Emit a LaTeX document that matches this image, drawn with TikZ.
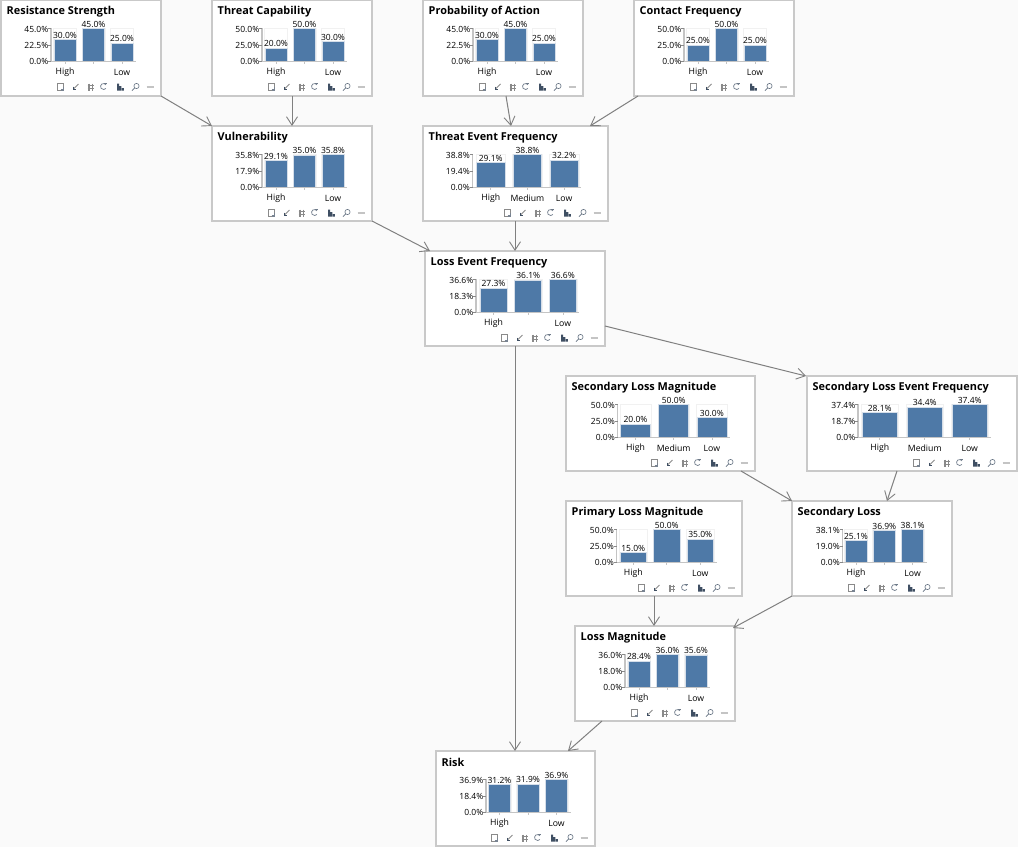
\documentclass[tikz,border=0pt]{standalone}
\usepackage{fontspec}
\setmainfont{Open Sans}
\usetikzlibrary{arrows.meta}
\definecolor{bgc}{HTML}{FAFAFA}
\definecolor{edgec}{HTML}{C9C9C9}
\definecolor{barc}{HTML}{4E79A7}
\definecolor{axisc}{HTML}{C4C4C4}
\definecolor{trackc}{HTML}{F1F1F1}
\definecolor{haloc}{HTML}{D5DEE9}
\definecolor{linkc}{HTML}{808080}
\definecolor{icondark}{HTML}{3F4F63}
\definecolor{icongrey}{HTML}{8A8A8A}
\tikzset{
  panelbox/.style={draw=edgec,line width=1.7pt,fill=white,inner sep=0pt,outer sep=0pt,anchor=north west},
  paneltitle/.style={font=\fontsize{10.9}{12}\selectfont\bfseries,anchor=west,inner sep=0pt},
  ticklabel/.style={font=\fontsize{8.5}{10}\selectfont,anchor=east,inner sep=0pt},
  vallabel/.style={font=\fontsize{8.5}{10}\selectfont,anchor=center,inner sep=0pt},
  catlabel/.style={font=\fontsize{8.7}{10}\selectfont,anchor=center,inner sep=0pt},
  link/.style={draw=linkc,line width=1pt,-{Straight Barb[length=8.5pt,width=11pt,line width=0.9pt]}},
}
% \panel{id}{x0}{y0}{x1}{y1}{title}
\newcommand{\panel}[6]{%
  \pgfmathsetmacro\pw{#4-#2}\pgfmathsetmacro\ph{#5-#3}%
  \node[panelbox,minimum width=\pw pt,minimum height=\ph pt] (#1) at (#2,#3) {};
  \node[paneltitle] (#1-title) at (#2+5.5,#3+11.5) {#6};
  \def\pid{#1}\def\pxa{#2}\def\pya{#3}\def\pxb{#4}%
  \panelicons{#4}{#3+87}%
}
% \geom{axis x}{first bar x}{bar width}{pitch}
\newcommand{\geom}[4]{\def\gax{#1}\def\gbx{#2}\def\gbw{#3}\def\gp{#4}}
\newcommand{\onebar}[5]{% index, value, max, label, category
  \pgfmathsetmacro\bl{\gbx+#1*\gp}\pgfmathsetmacro\br{\bl+\gbw}%
  \pgfmathsetmacro\bt{\pya+61.5-33*#2/#3}\pgfmathsetmacro\bc{\bl+\gbw/2}%
  \draw[trackc,line width=0.8pt] (\bl-0.5,\pya+61.5) -- (\bl-0.5,\pya+28) -- (\br+0.5,\pya+28) -- (\br+0.5,\pya+61.5);
  \fill[barc,draw=haloc,line width=0.6pt] (\bl,\bt) rectangle (\br,\pya+61.5);
  \node[vallabel] (\pid-val#1) at (\bc,\bt-4.5) {#4};
  \draw[axisc,line width=0.7pt] (\bc,\pya+61.5) -- (\bc,\pya+64);
  \if\relax\detokenize{#5}\relax\else
  \node[catlabel] (\pid-cat#1) at (\bc,\pya+72.5) {#5};\fi
}
% \chart{max}{mid}{v1}{v2}{v3}{middle category}
\newcommand{\chart}[6]{%
  \pgfmathsetmacro\lastx{\gbx+2*\gp+\gbw+3}%
  \onebar{0}{#3}{#1}{#3\%}{High}
  \onebar{1}{#4}{#1}{#4\%}{#6}
  \onebar{2}{#5}{#1}{#5\%}{Low}
  \draw[axisc,line width=1.3pt] (\gax,\pya+28) -- (\gax,\pya+61.5) -- (\lastx,\pya+61.5);
  \draw[axisc!70!black,line width=0.7pt] (\gax-3,\pya+28.5) -- (\gax,\pya+28.5) (\gax-3,\pya+45) -- (\gax,\pya+45) (\gax-3,\pya+61.5) -- (\gax,\pya+61.5);
  \node[ticklabel] (\pid-tmax) at (\gax-2.5,\pya+29.5) {#1\%};
  \node[ticklabel] (\pid-tmid) at (\gax-2.5,\pya+45.5) {#2\%};
  \node[ticklabel] (\pid-tmin) at (\gax-2.5,\pya+61.5) {0.0\%};
}
\newcommand{\panelicons}[2]{%
  \begin{scope}[shift={(#1,#2)}]
    % note
    \draw[icongrey,fill=white,line width=1pt] (-104,-3.5) rectangle (-97.5,3);
    \draw[icondark!70!white,line width=1.1pt] (-100.5,3) -- (-97.5,3) -- (-97.5,0);
    % arrow
    \draw[icongrey,line width=0.8pt] (-82.5,-3) -- (-87.5,2);
    \draw[icondark,line width=0.9pt] (-87.5,-0.5) -- (-87.5,2.3) -- (-84.7,2.3);
    % grid
    \draw[icongrey,line width=1.1pt] (-72,-3.5) -- (-72,3.5) (-68.5,-3.5) -- (-68.5,3.5) (-73.5,-1.5) -- (-67,-1.5) (-73.5,1.5) -- (-67,1.5);
    % refresh
    \draw[icondark!75!white,line width=0.7pt] (-55,-2.2) arc[start angle=-35,end angle=-320,radius=3];
    \draw[icondark!75!white,line width=0.7pt] (-57,-3.2) -- (-54,-3.2);
    % bars
    \fill[icondark] (-44,-3.5) rectangle (-42,3.5) (-41.6,-1) rectangle (-39.6,3.5) (-39.2,1) rectangle (-37.2,3.5);
    % magnifier
    \draw[icondark!80!white,line width=0.6pt] (-24.5,-1) circle[radius=2.6];
    \draw[icondark!80!white,line width=0.8pt] (-26.3,0.9) -- (-29,3.6);
    % minus
    \draw[axisc,line width=1.1pt] (-14.5,0) -- (-7.5,0);
  \end{scope}
}
\begin{document}
\begin{tikzpicture}[x=1pt,y=-1pt]
\useasboundingbox[fill=bgc] (0,0) rectangle (1018,847);
% boxes
\panel{res}{1}{0}{161}{96}{Resistance Strength}
\geom{51}{54}{22}{28.5}\chart{45.0}{22.5}{30.0}{45.0}{25.0}{}
\panel{tcap}{212}{0}{372}{96}{Threat Capability}
\geom{262}{265}{22}{28.5}\chart{50.0}{25.0}{20.0}{50.0}{30.0}{}
\panel{prob}{423}{0}{583}{96}{Probability of Action}
\geom{473}{476}{22}{28.5}\chart{45.0}{22.5}{30.0}{45.0}{25.0}{}
\panel{cont}{634}{0}{794}{96}{Contact Frequency}
\geom{684}{687}{22}{28.5}\chart{50.0}{25.0}{25.0}{50.0}{25.0}{}
\panel{vuln}{212}{126}{372}{221}{Vulnerability}
\geom{262}{265}{22}{28.5}\chart{35.8}{17.9}{29.1}{35.0}{35.8}{}
\panel{tef}{423}{126}{608}{221}{Threat Event Frequency}
\geom{472.5}{476.5}{28.5}{36.7}\chart{38.8}{19.4}{29.1}{38.8}{32.2}{Medium}
\panel{lef}{425}{251}{605}{346}{Loss Event Frequency}
\geom{476}{480}{27}{34.7}\chart{36.6}{18.3}{27.3}{36.1}{36.6}{}
\panel{slm}{566}{376}{755}{471}{Secondary Loss Magnitude}
\geom{617.5}{620.5}{30}{38.2}\chart{50.0}{25.0}{20.0}{50.0}{30.0}{Medium}
\panel{slef}{807}{376}{1017}{471}{Secondary Loss Event Frequency}
\geom{858}{862}{35.5}{45}\chart{37.4}{18.7}{28.1}{34.4}{37.4}{Medium}
\panel{sl}{792}{501}{952}{596}{Secondary Loss}
\geom{842.5}{845}{22}{28.3}\chart{38.1}{19.0}{25.1}{36.9}{38.1}{}
\panel{plm}{566}{501}{742}{596}{Primary Loss Magnitude}
\geom{616.5}{620}{26.5}{33.5}\chart{50.0}{25.0}{15.0}{50.0}{35.0}{}
\panel{lm}{575}{626}{735}{721}{Loss Magnitude}
\geom{625}{628}{22}{28.5}\chart{36.0}{18.0}{28.4}{36.0}{35.6}{}
\panel{risk}{436}{751}{595}{846}{Risk}
\geom{486}{488.5}{22}{28.5}\chart{36.9}{18.4}{31.2}{31.9}{36.9}{}
% links
\draw[link] (res.south east) -- (vuln.north west);
\draw[link] ([xshift=80pt]tcap.south west) -- ([xshift=80pt]vuln.north west);
\draw[link] ([xshift=83pt]prob.south west) -- ([xshift=88pt]tef.north west);
\draw[link] ([xshift=4pt]cont.south west) -- ([xshift=167pt]tef.north west);
\draw[link] (vuln.south east) -- ([xshift=5pt]lef.north west);
\draw[link] ([xshift=92pt]tef.south west) -- ([xshift=90pt]lef.north west);
\draw[link] ([xshift=90pt]lef.south west) -- ([xshift=79pt]risk.north west);
\draw[link] ([yshift=20pt]lef.south east) -- ([xshift=-1pt]slef.north west);
\draw[link] ([xshift=175pt]slm.south west) -- (sl.north west);
\draw[link] ([xshift=90pt]slef.south west) -- ([xshift=95pt]sl.north west);
\draw[link] ([xshift=88pt]plm.south west) -- ([xshift=79pt]lm.north west);
\draw[link] (sl.south west) -- ([xshift=-2pt,yshift=-2pt]lm.north east);
\draw[link] ([xshift=27pt]lm.south west) -- ([xshift=132pt]risk.north west);
\end{tikzpicture}
\end{document}
